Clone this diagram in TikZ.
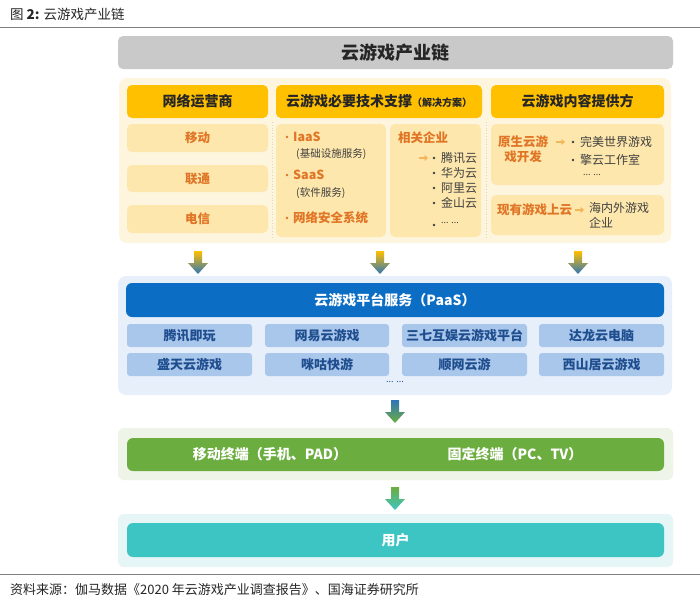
\documentclass[tikz,border=0pt]{standalone}
\usepackage{fontspec}
\setmainfont{Noto Sans CJK SC}
\usetikzlibrary{arrows.meta}
\definecolor{rulegray}{HTML}{808080}
\definecolor{titlegray}{HTML}{C9C9C9}
\definecolor{cream}{HTML}{FEF5DE}
\definecolor{headorange}{HTML}{FFC000}
\definecolor{subyellow}{HTML}{FDE7AC}
\definecolor{orangetxt}{HTML}{E07526}
\definecolor{darktxt}{HTML}{262626}
\definecolor{graytxt}{HTML}{404040}
\definecolor{smallarrow}{HTML}{F7B55A}
\definecolor{sepline}{HTML}{E6D6AE}
\definecolor{bluebg}{HTML}{E7F0FA}
\definecolor{bluebar}{HTML}{0B6DC4}
\definecolor{blueitem}{HTML}{A9C6EB}
\definecolor{bluetxt}{HTML}{1F4E8F}
\definecolor{arrowblue}{HTML}{2E75B6}
\definecolor{greenbg}{HTML}{EEF4E7}
\definecolor{greenbar}{HTML}{6CAD40}
\definecolor{tealbg}{HTML}{E6F5F5}
\definecolor{tealbar}{HTML}{3DC5C3}
% box: style, name, x1, y1, x2, y2, text
\newcommand\rbox[7]{\node[#1, minimum width={(#5-#3)*1pt}, minimum height={(#6-#4)*1pt}] (#2) at ({(#3+#5)/2},{(#4+#6)/2}) {#7};}
% block arrow: centre x, top y, top colour, bottom colour
\newcommand\blockarrow[4]{\shade[top color=#3, bottom color=#4] (#1-4,#2) -- (#1+4,#2) -- (#1+4,#2+12) -- (#1+10,#2+12) -- (#1,#2+23) -- (#1-10,#2+12) -- (#1-4,#2+12) -- cycle;}
\newcommand\tinyarrow[3]{\draw[smallarrow, line width=2.2pt, -{Triangle[length=3.5pt,width=6pt]}] (#1,#3) -- (#2,#3);}
\newcommand\fs[1]{\fontsize{#1}{#1}\selectfont}
\begin{document}
\begin{tikzpicture}[x=1pt,y=-1pt,
  panel/.style={rounded corners=6pt, inner sep=0pt, outer sep=0pt},
  header/.style={panel, fill=headorange, rounded corners=5pt, text=darktxt, font=\bfseries\fs{14}},
  subbox/.style={panel, fill=subyellow, rounded corners=5pt, text=orangetxt, font=\bfseries\fs{12.5}},
  orgb/.style={inner sep=0pt, text=orangetxt, font=\bfseries\fs{12.5}},
  plain/.style={inner sep=0pt, text=graytxt, font=\fs{12}},
  small/.style={inner sep=0pt, text=graytxt, font=\fs{10.5}},
  bitem/.style={panel, fill=blueitem, rounded corners=3pt, text=bluetxt, font=\bfseries\fs{13}},
  whitetxt/.style={inner sep=0pt, text=white, font=\bfseries\fs{14}}]
\useasboundingbox (0,0) rectangle (700,605);
\fill[white] (0,0) rectangle (700,605);

% caption and rules
\node[anchor=west, inner sep=0pt, text=darktxt, font=\fs{13.5}] (cap) at (10,14) {图 \textbf{2:} 云游戏产业链};
\draw[rulegray, line width=1pt] (0,27) -- (700,27);
\draw[rulegray, line width=1pt] (0,574) -- (700,574);
\node[anchor=west, inner sep=0pt, text=darktxt, font=\fs{13}] (src) at (10,590) {资料来源：伽马数据《2020 年云游戏产业调查报告》、国海证券研究所};

% title
\rbox{panel, fill=titlegray, rounded corners=5pt, text=darktxt, font=\bfseries\fs{18}}{title}{118}{36}{673}{69}{云游戏产业链}

% yellow section
\rbox{panel, fill=cream, rounded corners=8pt}{yellowbg}{119}{78}{671}{243}{}
\rbox{header}{h1}{127}{85}{268}{118}{网络运营商}
\rbox{header}{h2}{276}{85}{482}{118}{云游戏必要技术支撑{\fs{10}（解决方案）}}
\rbox{header}{h3}{491}{85}{664}{118}{云游戏内容提供方}

\draw[sepline, dotted, line width=0.8pt] (272,122) -- (272,238);
\draw[sepline, dotted, line width=0.8pt] (486,122) -- (486,238);

\rbox{subbox}{yd}{127}{124}{268}{152}{移动}
\rbox{subbox}{lt}{127}{165}{268}{192}{联通}
\rbox{subbox}{dx}{127}{205}{268}{233}{电信}

\rbox{subbox}{tech}{276}{124}{386}{237}{}
\fill[orangetxt] (287,137) circle (1.3);
\node[orgb, anchor=west] (iaas) at (293,137) {IaaS};
\node[small, anchor=west] (iaasd) at (296,154) {(基础设施服务)};
\fill[orangetxt] (287,175) circle (1.3);
\node[orgb, anchor=west] (saas) at (293,175) {SaaS};
\node[small, anchor=west] (saasd) at (296,193) {(软件服务)};
\fill[orangetxt] (287,218) circle (1.3);
\node[orgb, anchor=west] (sec) at (293,218) {网络安全系统};

\rbox{subbox}{rel}{390}{124}{481}{237}{}
\node[orgb, anchor=west] (relt) at (398,138) {相关企业};
\tinyarrow{419}{428}{158}
\fill[graytxt] (434,158) circle (1.3);
\node[plain, anchor=west] (c1) at (441,158) {腾讯云};
\fill[graytxt] (434,173) circle (1.3);
\node[plain, anchor=west] (c2) at (441,173) {华为云};
\fill[graytxt] (434,188) circle (1.3);
\node[plain, anchor=west] (c3) at (441,188) {阿里云};
\fill[graytxt] (434,203) circle (1.3);
\node[plain, anchor=west] (c4) at (441,203) {金山云};
\fill[graytxt] (434,225) circle (1.3);
\node[plain, anchor=west, font=\fs{9}] (c5) at (441,223) {... ...};

\rbox{subbox}{native}{491}{124}{664}{185}{}
\node[orgb, align=center, font=\bfseries\fontsize{12.5}{15}\selectfont] (nt) at (523,149.5) {原生云游\\戏开发};
\tinyarrow{556}{565}{142}
\fill[graytxt] (573,142) circle (1.3);
\node[plain, anchor=west] (g1) at (580,142) {完美世界游戏};
\fill[graytxt] (573,160) circle (1.3);
\node[plain, anchor=west] (g2) at (580,160) {擎云工作室};
\node[plain, anchor=west, font=\fs{9}] (g3) at (583,175) {... ...};

\rbox{subbox}{exist}{491}{195}{664}{235}{}
\node[orgb, anchor=west] (et) at (497,210) {现有游戏上云};
\tinyarrow{575}{584}{210}
\node[plain, anchor=west, align=left, font=\fontsize{12}{15}\selectfont] (ed) at (589,215.5) {海内外游戏\\企业};

% arrows to platform
\blockarrow{198}{251}{headorange}{arrowblue}
\blockarrow{380}{251}{headorange}{arrowblue}
\blockarrow{578}{251}{headorange}{arrowblue}

% blue section
\rbox{panel, fill=bluebg, rounded corners=8pt}{bluebg}{118}{276}{672}{395}{}
\rbox{panel, fill=bluebar, rounded corners=6pt, text=white, font=\bfseries\fs{14}}{paas}{126}{283}{664}{317}{云游戏平台服务（PaaS）}
\rbox{bitem}{p1}{127}{324}{252}{347}{腾讯即玩}
\rbox{bitem}{p2}{265}{324}{389}{347}{网易云游戏}
\rbox{bitem}{p3}{402}{324}{527}{347}{三七互娱云游戏平台}
\rbox{bitem}{p4}{539}{324}{664}{347}{达龙云电脑}
\rbox{bitem}{p5}{127}{353}{252}{376}{盛天云游戏}
\rbox{bitem}{p6}{265}{353}{389}{376}{咪咕快游}
\rbox{bitem}{p7}{402}{353}{527}{376}{顺网云游}
\rbox{bitem}{p8}{539}{353}{664}{376}{西山居云游戏}
\node[inner sep=0pt, text=bluetxt, font=\fs{9}] (pdots) at (395,382) {... ...};

\blockarrow{395}{400}{arrowblue}{greenbar}

% green section
\rbox{panel, fill=greenbg, rounded corners=6pt}{greenbg}{118}{428}{673}{480}{}
\rbox{panel, fill=greenbar, rounded corners=6pt}{term}{127}{438}{664}{471}{}
\node[whitetxt] (mob) at (270,454.5) {移动终端（手机、PAD）};
\node[whitetxt] (fix) at (515,454.5) {固定终端（PC、TV）};

\blockarrow{395}{487}{greenbar}{tealbar}

% teal section
\rbox{panel, fill=tealbg, rounded corners=6pt}{tealbg}{118}{514}{673}{567}{}
\rbox{panel, fill=tealbar, rounded corners=6pt, text=white, font=\bfseries\fs{14}}{user}{127}{523}{664}{557}{用户}
\end{tikzpicture}
\end{document}
